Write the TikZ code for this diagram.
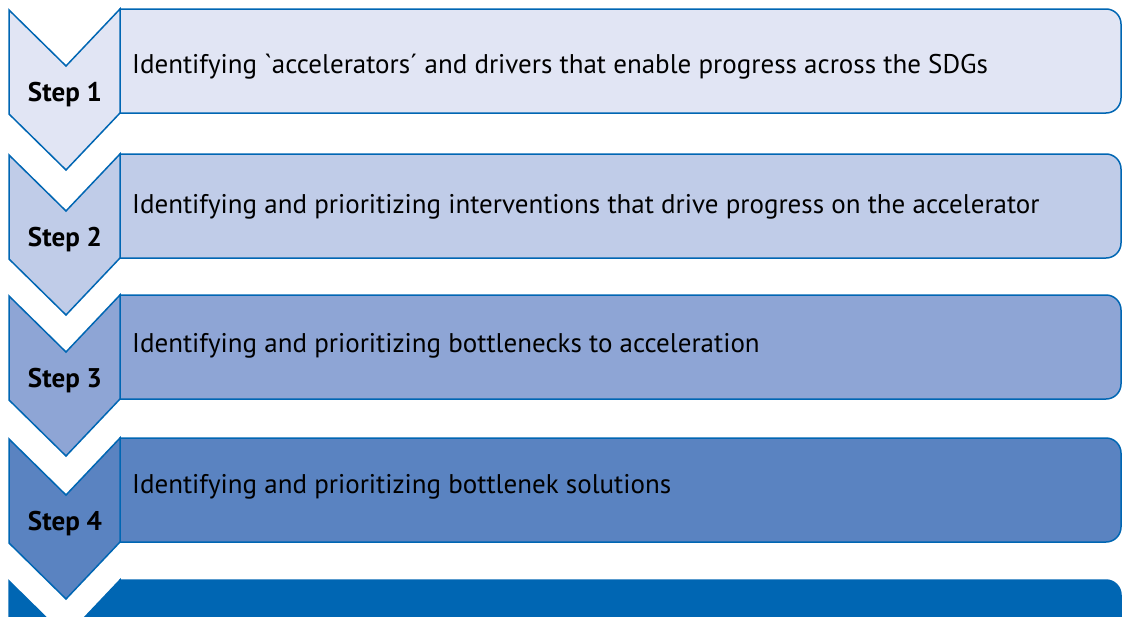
\documentclass[tikz,border=0pt]{standalone}
\usepackage{fontspec}
\setmainfont{PT Sans}[Ligatures=TeXOff]
\usetikzlibrary{positioning}

\definecolor{edgeblue}{RGB}{0,102,179}
\definecolor{stepa}{RGB}{225,229,244}
\definecolor{stepb}{RGB}{192,204,232}
\definecolor{stepc}{RGB}{142,165,213}
\definecolor{stepd}{RGB}{90,131,193}
\definecolor{stepe}{RGB}{0,102,179}

\tikzset{
  stepshape/.style={draw=edgeblue, line width=1.5pt, line join=miter},
  steplabel/.style={font=\bfseries\fontsize{27}{30}\selectfont, anchor=base, inner sep=0pt},
  steptext/.style={font=\fontsize{27}{30}\selectfont, anchor=base west, inner sep=0pt},
}

\begin{document}
\begin{tikzpicture}[x=1pt, y=-1pt]
\useasboundingbox (0,0) rectangle (1122,616);
\clip (0,0) rectangle (1122,616);
\foreach \n/\t/\c/\b in {1/9/stepa/64, 2/154/stepb/59, 3/295/stepc/57, 4/438/stepd/55, 5/580/stepe/55} {
 \draw[stepshape, fill=\c] (120,\t) [rounded corners=15pt] -- (1121,\t) -- (1121,\t+104) -- (600,\t+104) [sharp corners] -- (120,\t+104) -- cycle;
 \draw[stepshape, fill=\c] (9,\t+1) -- (66,\t+57) -- (120,\t) -- (120,\t+104) -- (66,\t+161) -- (9,\t+105) -- cycle;
 \coordinate (box\n) at (132,\t+\b);
 \coordinate (tip\n) at (65,\t+92);
}
\foreach \n/\s in {1/Identifying `accelerators´ and drivers that enable progress across the SDGs,
                   2/Identifying and prioritizing interventions that drive progress on the accelerator,
                   3/Identifying and prioritizing bottlenecks to acceleration,
                   4/Identifying and prioritizing bottlenek solutions} {
 \node[steptext] (text\n) at (box\n) {\s};
 \node[steplabel] (label\n) at (tip\n) {Step \n};
}
\end{tikzpicture}
\end{document}
